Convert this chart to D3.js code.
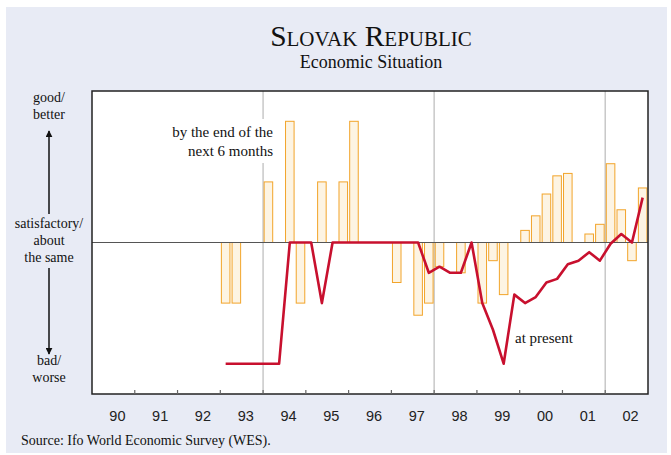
<!DOCTYPE html>
<html>
<head>
<meta charset="utf-8">
<script src="https://cdn.jsdelivr.net/npm/d3@7"></script>
<style>
  body { margin: 0; background: #fff; }
  svg { display: block; }
</style>
</head>
<body>
<svg id="chart"></svg>
<script>
const svg = d3.select("#chart");

const WIDTH = 671;
const HEIGHT = 455;

const PLOT = { left: 92, right: 648, top: 91, bottom: 394 };

// year columns on the axis
const years = ["90", "91", "92", "93", "94", "95", "96", "97", "98", "99", "00", "01", "02"];

// quarterly survey data, first value is quarter index 12 (counted from 1990 Q1)
const firstQuarter = 12;

// expectations: by the end of the next 6 months (bars)
const expectations = [
  -50, -50, 0, 0, 50, 0, 100, -50,
  0, 50, 0, 50, 100, 0, 0, 0,
  -33, 0, -60, -50, -20, 0, -25, 0,
  -50, -15, -43, 0, 10, 22, 40, 55,
  57, 0, 7, 15, 65, 27, -15, 45
];

// present situation (line)
const present = [
  -100, -100, -100, -100, -100, -100, 0, 0,
  0, -50, 0, 0, 0, 0, 0, 0,
  0, 0, 0, -25, -20, -25, -25, 0,
  -50, -72, -100, -43, -50, -45, -33, -30,
  -18, -15, -8, -15, -1, 7, 0, 37
];

// grey vertical dividers, in quarter index
const dividers = [16, 32, 48];

const nQuarters = years.length * 4;

const x = d3.scaleLinear().domain([0, nQuarters]).range([PLOT.left, PLOT.right]);
const y = d3.scaleLinear().domain([-125, 125]).range([PLOT.bottom, PLOT.top]);
const xYear = d3.scaleBand().domain(years).range([PLOT.left, PLOT.right]);

const step = x(1) - x(0);
const serif = "'Liberation Serif', 'Times New Roman', serif";
const sans = "'Liberation Sans', Arial, sans-serif";

svg.attr("width", WIDTH).attr("height", HEIGHT);

// background panel
svg.append("rect")
  .attr("x", 6).attr("y", 7)
  .attr("width", 661).attr("height", 446)
  .attr("fill", "#e8ebf5");

svg.append("rect")
  .attr("x", PLOT.left).attr("y", PLOT.top)
  .attr("width", PLOT.right - PLOT.left)
  .attr("height", PLOT.bottom - PLOT.top)
  .attr("fill", "#fff");

// title
svg.append("text")
  .attr("x", 371).attr("y", 46)
  .attr("text-anchor", "middle")
  .style("font-family", serif)
  .style("font-size", "29.5px")
  .style("font-variant", "small-caps")
  .attr("fill", "#111")
  .text("Slovak Republic");

svg.append("text")
  .attr("x", 371).attr("y", 68)
  .attr("text-anchor", "middle")
  .style("font-family", serif)
  .style("font-size", "18px")
  .attr("fill", "#111")
  .text("Economic Situation");

// dividers
svg.append("g")
  .selectAll("line")
  .data(dividers)
  .join("line")
  .attr("x1", (d) => x(d)).attr("x2", (d) => x(d))
  .attr("y1", PLOT.top).attr("y2", PLOT.bottom)
  .attr("stroke", "#c8c8c8")
  .attr("stroke-width", 1.5);

// bars
const barData = expectations.map((v, i) => ({ q: firstQuarter + i, v: v }));

svg.append("g")
  .selectAll("rect")
  .data(barData.filter((d) => d.v != 0))
  .join("rect")
  .attr("x", (d) => x(d.q) + step * 0.1)
  .attr("width", step * 0.8)
  .attr("y", (d) => y(Math.max(0, d.v)))
  .attr("height", (d) => Math.abs(y(d.v) - y(0)))
  .attr("fill", "#fdf4e3")
  .attr("stroke", "#f2a42a")
  .attr("stroke-width", 1);

// zero line
svg.append("line")
  .attr("x1", PLOT.left).attr("x2", PLOT.right)
  .attr("y1", y(0)).attr("y2", y(0))
  .attr("stroke", "#555")
  .attr("stroke-width", 1.2);

// present situation line
const lineF = d3.line()
  .x((d) => x(d.q + 0.5))
  .y((d) => y(d.v));

svg.append("path")
  .datum(present.map((v, i) => ({ q: firstQuarter + i, v: v })))
  .attr("d", lineF)
  .attr("fill", "none")
  .attr("stroke", "#c8102e")
  .attr("stroke-width", 2.6)
  .attr("stroke-linejoin", "round");

// labels inside the plot
const lbl = svg.append("g");
lbl.append("rect")
  .attr("x", 168).attr("y", 119)
  .attr("width", 108).attr("height", 44)
  .attr("fill", "#fff");

lbl.selectAll("text")
  .data(["by the end of the", "next 6 months"])
  .join("text")
  .attr("x", 273)
  .attr("y", (d, i) => 137 + i * 19)
  .attr("text-anchor", "end")
  .style("font-family", serif)
  .style("font-size", "15px")
  .attr("fill", "#111")
  .text((d) => d);

svg.append("text")
  .attr("x", 515).attr("y", 343)
  .style("font-family", serif)
  .style("font-size", "15px")
  .attr("fill", "#111")
  .text("at present");

// plot frame
svg.append("rect")
  .attr("x", PLOT.left).attr("y", PLOT.top)
  .attr("width", PLOT.right - PLOT.left)
  .attr("height", PLOT.bottom - PLOT.top)
  .attr("fill", "none")
  .attr("stroke", "#222")
  .attr("stroke-width", 1.5);

// year ticks at year boundaries
svg.append("g")
  .selectAll("line")
  .data(d3.range(1, years.length))
  .join("line")
  .attr("x1", (d) => x(d * 4)).attr("x2", (d) => x(d * 4))
  .attr("y1", PLOT.bottom).attr("y2", PLOT.bottom - 4)
  .attr("stroke", "#666")
  .attr("stroke-width", 1.2);

// year labels
const axisX = d3.axisBottom(xYear).tickSize(0).tickPadding(0);
const gx = svg.append("g")
  .attr("transform", `translate(4, ${PLOT.bottom + 27})`)
  .call(axisX);
gx.select(".domain").remove();
gx.selectAll("text")
  .style("font-family", sans)
  .style("font-size", "14.5px")
  .attr("fill", "#222")
  .attr("dy", 0);

// left scale description
const leftText = [
  { t: "good/", y: 102 },
  { t: "better", y: 119 },
  { t: "satisfactory/", y: 228 },
  { t: "about", y: 245 },
  { t: "the same", y: 262 },
  { t: "bad/", y: 365 },
  { t: "worse", y: 382 }
];

svg.append("g")
  .selectAll("text")
  .data(leftText)
  .join("text")
  .attr("x", 49)
  .attr("y", (d) => d.y)
  .attr("text-anchor", "middle")
  .style("font-family", serif)
  .style("font-size", "14px")
  .attr("fill", "#111")
  .text((d) => d.t);

svg.append("defs").append("marker")
  .attr("id", "arrow")
  .attr("viewBox", "0 0 10 10")
  .attr("refX", 9).attr("refY", 5)
  .attr("markerWidth", 7).attr("markerHeight", 7)
  .attr("markerUnits", "userSpaceOnUse")
  .attr("orient", "auto")
  .append("path")
  .attr("d", "M0,0L10,5L0,10Z")
  .attr("fill", "#111");

svg.append("line")
  .attr("x1", 49).attr("x2", 49)
  .attr("y1", 214).attr("y2", 131)
  .attr("stroke", "#111").attr("stroke-width", 1.5)
  .attr("marker-end", "url(#arrow)");

svg.append("line")
  .attr("x1", 49).attr("x2", 49)
  .attr("y1", 268).attr("y2", 354)
  .attr("stroke", "#111").attr("stroke-width", 1.5)
  .attr("marker-end", "url(#arrow)");

// source
svg.append("text")
  .attr("x", 21).attr("y", 445)
  .style("font-family", serif)
  .style("font-size", "14px")
  .attr("fill", "#111")
  .text("Source: Ifo World Economic Survey (WES).");
</script>
</body>
</html>
